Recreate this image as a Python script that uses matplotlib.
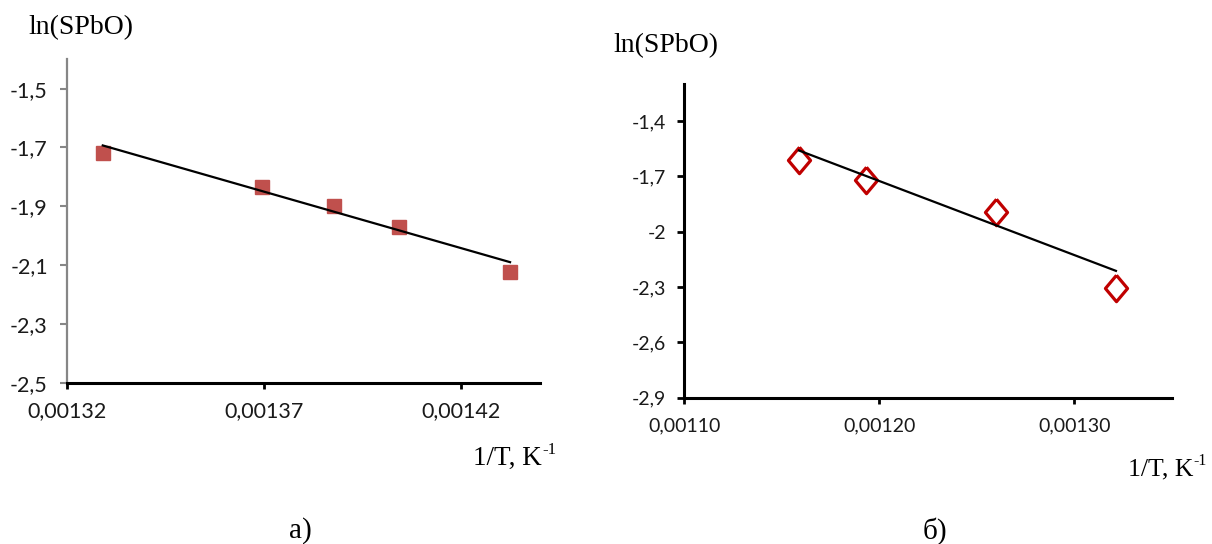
import matplotlib.pyplot as plt
from matplotlib.ticker import FixedLocator, FuncFormatter

# panel a) data
a_x = [0.001329, 0.0013694, 0.0013878, 0.0014043, 0.0014324]
a_y = [-1.720, -1.836, -1.900, -1.969, -2.124]
a_trend_x = [0.001329, 0.0014324]
a_trend_y = [-1.693, -2.090]
a_xticks = [0.00132, 0.00137, 0.00142]
a_yticks = [-2.5, -2.3, -2.1, -1.9, -1.7, -1.5]

# panel б) data
b_x = [0.0011588, 0.0011932, 0.0012597, 0.0013214]
b_y = [-1.609, -1.718, -1.895, -2.304]
b_trend_x = [0.0011588, 0.0013214]
b_trend_y = [-1.559, -2.212]
b_xticks = [0.00110, 0.00120, 0.00130]
b_yticks = [-2.9, -2.6, -2.3, -2.0, -1.7, -1.4]

W, H = 1212, 544
fig = plt.figure(figsize=(W / 100, H / 100), dpi=100)

serif = 'Liberation Serif'
sans = 'Lato'

xfmt = FuncFormatter(lambda v, p: f"{v:.5f}".replace('.', ','))
yfmt = FuncFormatter(lambda v, p: f"{round(v, 1):g}".replace('.', ','))

diamond = [(0, 0.5), (0.42, 0), (0, -0.5), (-0.42, 0), (0, 0.5)]

# ---- panel a)
ax1 = fig.add_axes([67.3 / W, 1 - 382.7 / H, 472.7 / W, 323.4 / H])
ax1.plot(a_trend_x, a_trend_y, color='black', lw=1.6, zorder=3)
ax1.plot(a_x, a_y, ls='none', marker='s', ms=10.5, color='#C0504D', mec='#C0504D', zorder=2)
ax1.set_xlim(0.00132, 0.00144)
ax1.set_ylim(-2.5, -1.4)
ax1.xaxis.set_major_locator(FixedLocator(a_xticks))
ax1.yaxis.set_major_locator(FixedLocator(a_yticks))
ax1.xaxis.set_major_formatter(xfmt)
ax1.yaxis.set_major_formatter(yfmt)
for s in ['top', 'right']:
    ax1.spines[s].set_visible(False)
ax1.spines['left'].set_color('#868686')
ax1.spines['left'].set_linewidth(1.6)
ax1.spines['bottom'].set_color('black')
ax1.spines['bottom'].set_linewidth(2.2)
ax1.tick_params(axis='y', direction='out', length=5, width=1.5, color='#868686',
                pad=9, labelsize=15.5, labelcolor='#1a1a1a')
ax1.tick_params(axis='x', direction='out', length=4.5, width=2, color='black',
                pad=8.5, labelsize=15.5, labelcolor='#1a1a1a')
for lab in ax1.get_xticklabels() + ax1.get_yticklabels():
    lab.set_fontfamily(sans)

# ---- panel б)
ax2 = fig.add_axes([684.3 / W, 1 - 397.7 / H, 487.4 / W, 313.4 / H])
ax2.plot(b_trend_x, b_trend_y, color='black', lw=1.6, zorder=3)
ax2.plot(b_x, b_y, ls='none', marker=diamond, ms=19, mfc='none', mec='#C00000', mew=2.3, zorder=2)
ax2.set_xlim(0.00110, 0.00135)
ax2.set_ylim(-2.9, -1.2)
ax2.xaxis.set_major_locator(FixedLocator(b_xticks))
ax2.yaxis.set_major_locator(FixedLocator(b_yticks))
ax2.xaxis.set_major_formatter(xfmt)
ax2.yaxis.set_major_formatter(yfmt)
for s in ['top', 'right']:
    ax2.spines[s].set_visible(False)
for s in ['left', 'bottom']:
    ax2.spines[s].set_color('black')
    ax2.spines[s].set_linewidth(2.2)
ax2.tick_params(axis='y', direction='out', length=5, width=2, color='black',
                pad=8, labelsize=14, labelcolor='#1a1a1a')
ax2.tick_params(axis='x', direction='out', length=4, width=2, color='black',
                pad=10.5, labelsize=14, labelcolor='#1a1a1a')
for lab in ax2.get_xticklabels() + ax2.get_yticklabels():
    lab.set_fontfamily(sans)

# ---- axis titles and panel labels
def ftext(x, y, s, **kw):
    return fig.text(x / W, 1 - y / H, s, family=serif, color='black', **kw)

renderer = fig.canvas.get_renderer()

def unit_label(x, y, size):
    # "1/T, K" followed by a raised "-1" written with a plain hyphen
    t = ftext(x, y, '1/T, K', fontsize=size, ha='left', va='baseline')
    bb = t.get_window_extent(renderer)
    fig.text(bb.x1 / W + 0.5 / W, 1 - (y - size * 0.55) / H, '-1', family=serif,
             fontsize=size * 0.62, ha='left', va='baseline', color='black')

ftext(28.7, 28, 'ln(SPbO)', fontsize=20, ha='left', va='center')
ftext(613.6, 46, 'ln(SPbO)', fontsize=20, ha='left', va='center')
unit_label(473.3, 465, 19.5)
unit_label(1127.7, 475, 18.5)
ftext(300, 531, 'а)', fontsize=21, ha='center', va='center')
ftext(935, 531, 'б)', fontsize=21, ha='center', va='center')

fig.savefig('out.png', dpi=100)
